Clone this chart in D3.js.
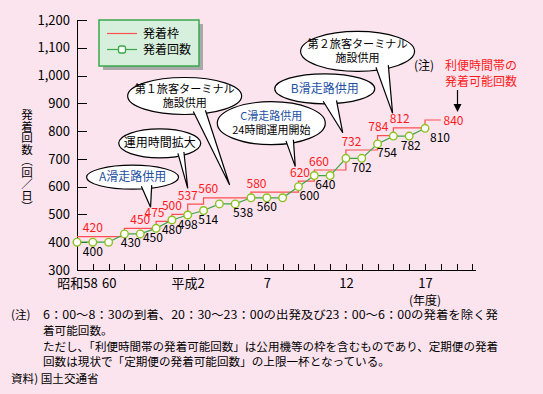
<!DOCTYPE html>
<html>
<head>
<meta charset="utf-8">
<script src="https://cdn.jsdelivr.net/npm/d3@7"></script>
<style>
  body { margin: 0; background: #fce4ef; }
  text { font-family: "Noto Sans CJK JP", "Noto Sans", sans-serif; }
</style>
</head>
<body>
<div id="chart"></div>
<script>
// data
// ================================
var years = d3.range(1983, 2006);
var slotValues = [420, 420, 420, 450, 450, 475, 500, 537, 560, 560, 560, 580,
  580, 580, 620, 660, 660, 732, 732, 784, 812, 812, 840];
var flightValues = [400, 400, 400, 430, 430, 450, 480, 498, 514, 538, 538, 560,
  560, 560, 600, 640, 640, 702, 702, 754, 782, 782, 810];
var slotEndYear = 2006;

// which values get a number printed, and the year they sit over
var slotLabels = [420, 450, 475, 500, 537, 560, 580, 620, 660, 732, 784, 812, 840];
var slotLabelAt = [1984, 1987, 1987.9, 1989, 1990, 1991.3, 1994.35, 1997.1,
  1998.3, 2000.35, 2002.05, 2003.4, 2006.8];
var flightLabels = [400, 430, 450, 480, 498, 514, 538, 560, 600, 640, 702, 754, 782, 810];
var flightLabelAt = [1984, 1986.4, 1987.8, 1989, 1990, 1991.3, 1993.5, 1995,
  1997.7, 1998.7, 2001, 2002.6, 2004.1, 2005.95];

var tickYears = d3.range(1983, 2009);
var yearLabels = { 1983: "昭和58", 1985: "60", 1990: "平成2", 1995: "7", 2000: "12", 2005: "17" };
var yTicks = d3.range(300, 1201, 100);

// callouts: text lines, the point the tail touches (year, value)
var callouts = [
  { lines: ["A滑走路供用"], color: ["#1e4fa3"], tip: [1987.65, 526],
    off: [-18, -30], rx: 46, ry: 12, base: [10, 19] },
  { lines: ["運用時間拡大"], color: ["#000"], tip: [1990, 594],
    off: [-28, -45], rx: 41, ry: 14.5, base: [19, 24.5] },
  { lines: ["第１旅客ターミナル", "施設供用"], color: ["#000", "#000"], tip: [1992.65, 606],
    off: [-45, -89], rx: 57, ry: 18.5, base: [10, 21.7] },
  { lines: ["C滑走路供用", "24時間運用開始"], color: ["#1e4fa3", "#000"], tip: [1996.8, 672],
    off: [-24, -43.5], rx: 54, ry: 21.5, base: [15.7, 22.3] },
  { lines: ["B滑走路供用"], color: ["#1e4fa3"], tip: [1999.8, 794],
    off: [-18, -44], rx: 50, ry: 15, base: [0, 12.3] },
  { lines: ["第２旅客ターミナル", "施設供用"], color: ["#000", "#000"], tip: [2002.95, 864],
    off: [-35, -62], rx: 57, ry: 20, base: [19.4, 31] },
];

var notes = [
  "6：00～8：30の到着、20：30～23：00の出発及び23：00～6：00の発着を除く発",
  "着可能回数。",
  "ただし、「利便時間帯の発着可能回数」は公用機等の枠を含むものであり、定期便の発着",
  "回数は現状で「定期便の発着可能回数」の上限一杯となっている。",
];

// Set up our chart
// ================================
var svgWidth = 543;
var svgHeight = 394;

var svg = d3
  .select("#chart")
  .append("svg")
  .attr("width", svgWidth)
  .attr("height", svgHeight);

svg.append("rect").attr("width", svgWidth).attr("height", svgHeight).attr("fill", "#fce4ef");

var xScale = d3.scaleLinear().domain([1983, 2005]).range([77, 425]);
var yScale = d3.scaleLinear().domain([300, 1200]).range([270, 20]);

// axes
var leftAxis = d3
  .axisLeft(yScale)
  .tickValues(yTicks)
  .tickFormat(d3.format(","))
  .tickSizeInner(-10)
  .tickSizeOuter(0)
  .tickPadding(7);

var yAxis = svg.append("g").attr("transform", `translate(${xScale(1983)}, 0)`).call(leftAxis);
yAxis.selectAll("text").attr("font-size", 13).attr("fill", "#000");

var bottomAxis = d3
  .axisBottom(xScale)
  .tickValues(tickYears)
  .tickFormat((d) => yearLabels[d] || "")
  .tickSizeInner(-6)
  .tickSizeOuter(0)
  .tickPadding(9);

var xAxis = svg.append("g").attr("transform", `translate(0, ${yScale(300)})`).call(bottomAxis);
xAxis.select(".domain").remove();
xAxis.append("line")
  .attr("x1", xScale(1983))
  .attr("x2", xScale(2008) + 4)
  .attr("stroke", "#000");
xAxis.selectAll("text").attr("font-size", 13).attr("fill", "#000");
svg.selectAll(".tick line").attr("stroke", "#000");
svg.selectAll("path.domain, .tick line, line").attr("shape-rendering", "crispEdges");

svg.append("text")
  .attr("x", xScale(2005))
  .attr("y", 305)
  .attr("text-anchor", "middle")
  .attr("font-size", 12)
  .text("(年度)");

svg.append("text")
  .attr("x", 27)
  .attr("y", 109)
  .attr("font-size", 11.5)
  .style("writing-mode", "vertical-rl")
  .text("発着回数（回／日）");

// slot step line
var slotPoints = years.map((y, i) => [y, slotValues[i]]);
slotPoints.push([slotEndYear, slotValues[slotValues.length - 1]]);

var stepLine = d3
  .line()
  .x((d) => xScale(d[0]))
  .y((d) => yScale(d[1]))
  .curve(d3.curveStepAfter);

svg.append("path")
  .attr("d", stepLine(slotPoints))
  .attr("fill", "none")
  .attr("stroke", "#ff4f4f")
  .attr("stroke-width", 1.2);

// flights line + circles
var flightPoints = years.map((y, i) => [y, flightValues[i]]);
var flightLine = d3
  .line()
  .x((d) => xScale(d[0]))
  .y((d) => yScale(d[1]));

svg.append("path")
  .attr("d", flightLine(flightPoints))
  .attr("fill", "none")
  .attr("stroke", "#3aa844")
  .attr("stroke-width", 1.2);

svg.selectAll("circle.pt")
  .data(flightPoints)
  .enter()
  .append("circle")
  .attr("class", "pt")
  .attr("cx", (d) => xScale(d[0]))
  .attr("cy", (d) => yScale(d[1]))
  .attr("r", 3.8)
  .attr("fill", "#fff")
  .attr("stroke", "#8cc21e")
  .attr("stroke-width", 1.4);

// value labels
svg.selectAll("text.slot")
  .data(slotLabels)
  .enter()
  .append("text")
  .attr("class", "slot")
  .attr("x", (d, i) => xScale(slotLabelAt[i]))
  .attr("y", (d, i) => yScale(d) - (i === slotLabels.length - 1 ? -4.5 : 4.5))
  .attr("text-anchor", "middle")
  .attr("font-size", 12)
  .attr("fill", "#ff1a1a")
  .text((d) => d);

svg.selectAll("text.flt")
  .data(flightLabels)
  .enter()
  .append("text")
  .attr("class", "flt")
  .attr("x", (d, i) => xScale(flightLabelAt[i]))
  .attr("y", (d) => yScale(d) + 13.5)
  .attr("text-anchor", "middle")
  .attr("font-size", 12)
  .attr("fill", "#000")
  .text((d) => d);

// callouts
callouts.forEach(function (c) {
  var tx = xScale(c.tip[0]);
  var ty = yScale(c.tip[1]);
  var cx = tx + c.off[0];
  var cy = ty + c.off[1];
  var g = svg.append("g");

  g.append("ellipse")
    .attr("cx", cx)
    .attr("cy", cy)
    .attr("rx", c.rx)
    .attr("ry", c.ry)
    .attr("fill", "#fff")
    .attr("stroke", "#000")
    .attr("stroke-width", 1.2);

  // tail: start a little inside the ellipse so the fill hides its border
  var pts = c.base.map(function (b) {
    var bx = cx + b;
    var by = cy + c.ry * Math.sqrt(Math.max(0, 1 - (b / c.rx) * (b / c.rx)));
    var dx = bx - tx, dy = by - ty;
    var len = Math.sqrt(dx * dx + dy * dy);
    return [bx + (dx / len) * 3, by + (dy / len) * 3];
  });
  g.append("path")
    .attr("d", `M${pts[0][0]},${pts[0][1]}L${tx},${ty}L${pts[1][0]},${pts[1][1]}`)
    .attr("fill", "#fff")
    .attr("stroke", "#000")
    .attr("stroke-width", 1.2);

  var n = c.lines.length;
  c.lines.forEach(function (line, i) {
    var t = g.append("text")
      .attr("x", cx)
      .attr("y", cy + (i - (n - 1) / 2) * 14 + 4)
      .attr("text-anchor", "middle")
      .attr("font-size", n > 1 ? 11 : 12)
      .attr("fill", c.color[i])
      .text(line);
    if (line.length > 8) t.attr("textLength", 100).attr("lengthAdjust", "spacingAndGlyphs");
  });
});

// note with arrow on the right
var noteG = svg.append("g");
noteG.append("text").attr("x", 414).attr("y", 69.5).attr("font-size", 12).text("(注)");
noteG.append("text").attr("x", 445).attr("y", 69.5).attr("font-size", 12).attr("fill", "#ff1a1a").text("利便時間帯の");
noteG.append("text").attr("x", 445).attr("y", 85.5).attr("font-size", 12).attr("fill", "#ff1a1a").text("発着可能回数");
noteG.append("line")
  .attr("x1", 457.5).attr("y1", 90)
  .attr("x2", 457.5).attr("y2", 105)
  .attr("stroke", "#000").attr("stroke-width", 1.2);
noteG.append("path")
  .attr("d", "M453.5,104L461.5,104L457.5,112Z")
  .attr("fill", "#000");

// legend
var legend = svg.append("g");
legend.append("rect").attr("x", 103).attr("y", 24).attr("width", 100).attr("height", 46).attr("fill", "#a9a9a9");
legend.append("rect").attr("x", 99).attr("y", 20).attr("width", 100).attr("height", 46)
  .attr("fill", "#d7efdd").attr("stroke", "#3aa84e").attr("stroke-width", 1.5);
legend.append("line").attr("x1", 107).attr("x2", 137).attr("y1", 33.5).attr("y2", 33.5)
  .attr("stroke", "#ff4f4f").attr("stroke-width", 1.2);
legend.append("text").attr("x", 143).attr("y", 38).attr("font-size", 12).text("発着枠");
legend.append("line").attr("x1", 107).attr("x2", 137).attr("y1", 49.5).attr("y2", 49.5)
  .attr("stroke", "#3aa844").attr("stroke-width", 1.2);
legend.append("rect").attr("x", 118.5).attr("y", 46).attr("width", 7).attr("height", 7).attr("rx", 2)
  .attr("fill", "#fff").attr("stroke", "#3aa844").attr("stroke-width", 1.3);
legend.append("text").attr("x", 143).attr("y", 54).attr("font-size", 12).text("発着回数");

// footnotes
var foot = svg.append("g").attr("font-size", 11.6);
foot.append("text").attr("x", 11).attr("y", 319).text("(注)");
var noteY = [319, 335, 350.5, 366];
notes.forEach(function (line, i) {
  var t = foot.append("text").attr("x", 43).attr("y", noteY[i]).text(line);
  if (i === 0 || i === 2) t.attr("textLength", 455).attr("lengthAdjust", "spacingAndGlyphs");
});
foot.append("text").attr("x", 11).attr("y", 383).text("資料) 国土交通省");
</script>
</body>
</html>
